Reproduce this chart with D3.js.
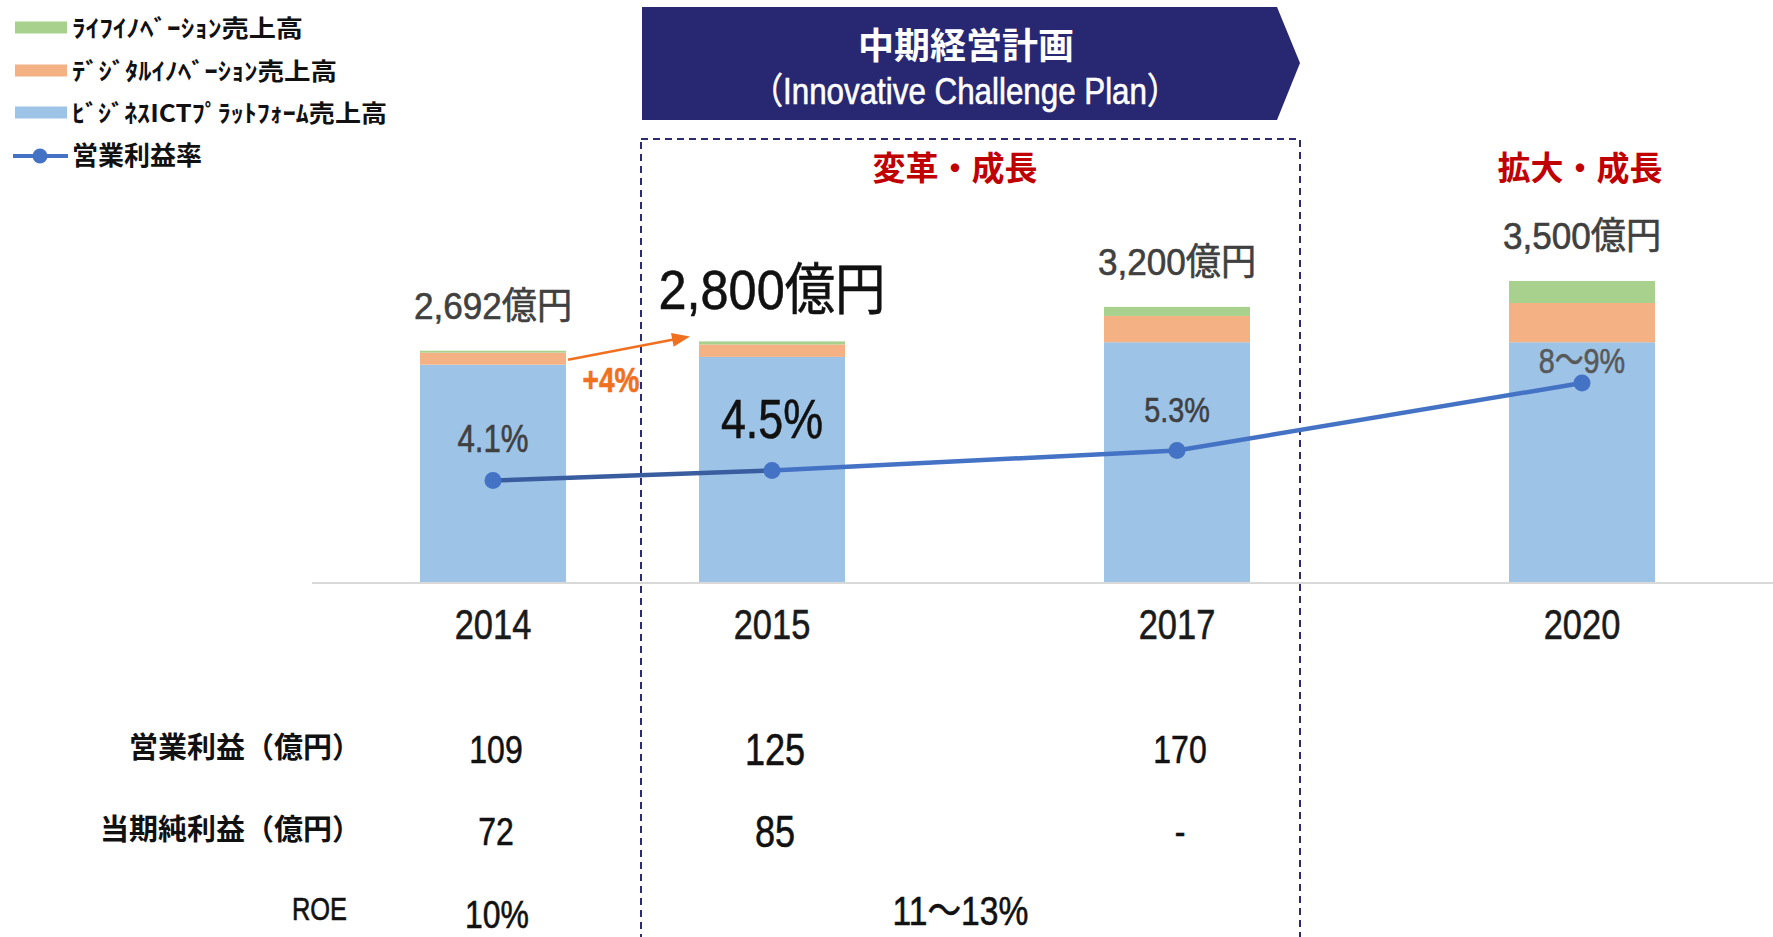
<!DOCTYPE html>
<html>
<head>
<meta charset="utf-8">
<script src="https://cdn.jsdelivr.net/npm/d3@7"></script>
<style>
  body { margin: 0; background: #fff; }
  text { font-family: "Liberation Sans", Arial, "Noto Sans CJK JP", sans-serif; }
  .jp { font-family: "Noto Sans CJK JP", sans-serif; }
  .nar { stroke-width: 0.6px; }
</style>
</head>
<body>
<svg id="chart" width="1773" height="937"></svg>
<script>
// data (億円, %)
const years = ['2014', '2015', '2017', '2020']
const ictSales = [2530, 2620, 2790, 2790]
const digitalSales = [140, 145, 305, 455]
const lifeSales = [22, 35, 105, 255]
const totalLabels = ['2,692億円', '2,800億円', '3,200億円', '3,500億円']
const opMargin = [4.1, 4.5, 5.3, 8.0]
const marginLabels = ['4.1%', '4.5%', '5.3%', '8～9%']

const legendNames = ['ﾗｲﾌｲﾉﾍﾞｰｼｮﾝ売上高', 'ﾃﾞｼﾞﾀﾙｲﾉﾍﾞｰｼｮﾝ売上高', 'ﾋﾞｼﾞﾈｽICTﾌﾟﾗｯﾄﾌｫｰﾑ売上高', '営業利益率']
const tableRows = ['営業利益（億円）', '当期純利益（億円）', 'ROE']
const opProfit = ['109', '125', '170', '']
const netProfit = ['72', '85', '-', '']
const roe = ['10%', '11～13%']

const planTitle = '中期経営計画'
const planSub = '（Innovative Challenge Plan）'
const phases = ['変革・成長', '拡大・成長']

const colors = { ict: '#9DC3E6', digital: '#F4B183', life: '#A9D18E', line: '#4472C4' }
const focus = '2015'

const svg = d3.select('#chart')

const x = d3.scaleLinear()
    .domain(years.map(Number))
    .range([493, 772, 1177, 1582])
const y = d3.scaleLinear().domain([0, 3500]).range([583, 281])
const ym = d3.scaleLinear().domain([0, 8]).range([583, 383])
const bw = 146

// narrow text: Arial squeezed sideways, like Arial Narrow
function nar(sel, fx, fy, sx) {
    sel.attr('class', 'nar')
        .attr('transform', (d, i) => 'translate(' + fx(d, i) + ',' + fy(d, i) + ') scale(' +
            (typeof sx === 'function' ? sx(d, i) : sx) + ',1)')
    return sel
}
// thicken strokes a little, the slide font is heavier than Arial
function ink(sel, c) {
    return sel.attr('fill', c).attr('stroke', c)
}

// plan box and banner
svg.append('rect')
    .attr('x', 641).attr('y', 139)
    .attr('width', 659).attr('height', 840)
    .attr('fill', 'none')
    .attr('stroke', '#2B2B70')
    .attr('stroke-width', 2)
    .attr('stroke-dasharray', '7,5')

svg.append('path')
    .attr('d', 'M642,7 L1277,7 L1300,63 L1277,120 L642,120 Z')
    .attr('fill', '#282872')

svg.append('text').attr('class', 'jp')
    .attr('x', 966).attr('y', 59)
    .attr('text-anchor', 'middle')
    .attr('font-size', 36).attr('font-weight', 'bold')
    .attr('fill', '#fff')
    .text(planTitle)
ink(nar(svg.append('text'), () => 965, () => 104, 0.87), '#fff')
    .attr('text-anchor', 'middle')
    .attr('font-size', 36)
    .text(planSub)

svg.selectAll('.phase')
    .data(phases)
    .enter()
    .append('text')
    .attr('class', 'jp')
    .attr('x', (d, i) => i == 0 ? 955 : 1580)
    .attr('y', 180)
    .attr('text-anchor', 'middle')
    .attr('font-size', 33).attr('font-weight', 'bold')
    .attr('fill', '#C00000')
    .text(d => d)

// stacked bars
const rows = years.map((yr, i) => ({ year: yr, ict: ictSales[i], digital: digitalSales[i], life: lifeSales[i] }))
const stack = d3.stack().keys(['ict', 'digital', 'life'])(rows)

svg.selectAll('g.layer')
    .data(stack)
    .enter()
    .append('g')
    .attr('fill', d => colors[d.key])
    .selectAll('rect')
    .data(d => d)
    .enter()
    .append('rect')
    .attr('x', d => x(+d.data.year) - bw / 2)
    .attr('y', d => y(d[1]))
    .attr('width', bw)
    .attr('height', d => y(d[0]) - y(d[1]))

// baseline + year labels
svg.append('line')
    .attr('x1', 312).attr('x2', 1773)
    .attr('y1', y(0)).attr('y2', y(0))
    .attr('stroke', '#D9D9D9').attr('stroke-width', 2)

ink(nar(svg.selectAll('.year')
    .data(years)
    .enter()
    .append('text'), d => x(+d), () => 639, 0.82), '#1a1a1a')
    .attr('text-anchor', 'middle')
    .attr('font-size', 42)
    .text(d => d)

// total sales labels
const totals = rows.map(r => r.ict + r.digital + r.life)
nar(svg.selectAll('.total')
    .data(totalLabels)
    .enter()
    .append('text'), (d, i) => x(+years[i]), (d, i) => y(totals[i]) - 32,
    (d, i) => years[i] == focus ? 0.9 : 0.95)
    .attr('text-anchor', 'middle')
    .attr('font-size', (d, i) => years[i] == focus ? 56 : 37)
    .attr('fill', (d, i) => years[i] == focus ? '#111' : '#404040')
    .attr('stroke', (d, i) => years[i] == focus ? '#111' : '#404040')
    .text(d => d)

// growth arrow
const a0 = [x(2014) + bw / 2 + 2, y(totals[0]) + 9]
const a1 = [x(2015) - bw / 2 - 9, y(totals[1]) - 5]
const ang = Math.atan2(a1[1] - a0[1], a1[0] - a0[0])
const tip = (len, off) => [a1[0] - len * Math.cos(ang) - off * Math.sin(ang), a1[1] - len * Math.sin(ang) + off * Math.cos(ang)]
svg.append('line')
    .attr('x1', a0[0]).attr('y1', a0[1])
    .attr('x2', tip(10, 0)[0]).attr('y2', tip(10, 0)[1])
    .attr('stroke', '#F07020').attr('stroke-width', 2.5)
svg.append('path')
    .attr('d', 'M' + a1 + 'L' + tip(18, 7) + 'L' + tip(18, -7) + 'Z')
    .attr('fill', '#F07020')
ink(nar(svg.append('text'), () => a0[0] + 43, () => 392, 0.8), '#F07020')
    .attr('text-anchor', 'middle')
    .attr('font-size', 35).attr('font-weight', 'bold')
    .text('+4%')

// operating margin line
const pts = years.map((yr, i) => [x(+yr), ym(opMargin[i])])
for (let i = 0; i < pts.length - 1; i++) {
    svg.append('path')
        .attr('d', d3.line()([pts[i], pts[i + 1]]))
        .attr('fill', 'none')
        .attr('stroke', i == 0 ? '#3A5DA0' : colors.line)
        .attr('stroke-width', 4.5)
}
svg.selectAll('circle.dot')
    .data(pts)
    .enter()
    .append('circle')
    .attr('cx', d => d[0]).attr('cy', d => d[1])
    .attr('r', 8.5)
    .attr('fill', colors.line)

const mColor = (d, i) => years[i] == focus ? '#111' : (d.includes('～') ? '#595959' : '#404040')
nar(svg.selectAll('.mlabel')
    .data(marginLabels)
    .enter()
    .append('text'), (d, i) => x(+years[i]),
    (d, i) => ym(opMargin[i]) - (d.includes('～') ? 10 : years[i] == focus ? 33 : 29), 0.8)
    .attr('text-anchor', 'middle')
    .attr('font-size', (d, i) => years[i] == focus ? 56 : (i == 0 ? 39 : 36))
    .attr('fill', mColor)
    .attr('stroke', mColor)
    .text(d => d)

// legend
const legend = svg.append('g')
const swatch = [colors.life, colors.digital, colors.ict]
const legendY = [27.5, 70.5, 112.5, 156]
const legendW = [231, 265, 315]
legendNames.forEach((name, i) => {
    if (i < 3) {
        legend.append('rect')
            .attr('x', 15).attr('y', legendY[i] - 6)
            .attr('width', 52).attr('height', 12)
            .attr('fill', swatch[i])
    } else {
        legend.append('line')
            .attr('x1', 13).attr('x2', 68)
            .attr('y1', legendY[i]).attr('y2', legendY[i])
            .attr('stroke', colors.line).attr('stroke-width', 4)
        legend.append('circle')
            .attr('cx', 40).attr('cy', legendY[i]).attr('r', 7.5)
            .attr('fill', colors.line)
    }
    const t = legend.append('text').attr('class', 'jp')
        .attr('x', 72).attr('y', legendY[i] + 9)
        .attr('font-size', i < 3 ? 24 : 26)
        .attr('font-weight', 'bold')
        .attr('fill', '#111')
        .text(name)
    if (i < 3) t.attr('textLength', legendW[i]).attr('lengthAdjust', 'spacingAndGlyphs')
})

// table under the chart
const rowY = [763, 845, 925]
tableRows.forEach((lab, i) => {
    if (i < 2) {
        svg.append('text').attr('class', 'jp')
            .attr('x', 361).attr('y', rowY[i] - 5)
            .attr('text-anchor', 'end')
            .attr('font-size', 29).attr('font-weight', 'bold')
            .attr('fill', '#111')
            .text(lab)
    } else {
        ink(nar(svg.append('text'), () => 347, () => rowY[i] - 5, 0.82), '#111')
            .attr('text-anchor', 'end')
            .attr('font-size', 31)
            .text(lab)
    }
})

const cell = (vals, r) => {
    ink(nar(svg.selectAll('.r' + r)
        .data(vals)
        .enter()
        .append('text'), (d, i) => x(+years[i]) + 3,
        (d, i) => rowY[r] + (years[i] == focus ? 2 : 0), 0.82), '#111')
        .attr('text-anchor', 'middle')
        .attr('font-size', (d, i) => years[i] == focus ? 44 : 39)
        .text(d => d)
}
cell(opProfit, 0)
cell(netProfit, 1)

ink(nar(svg.append('text'), () => x(2014) + 4, () => rowY[2] + 3, 0.82), '#111')
    .attr('text-anchor', 'middle')
    .attr('font-size', 39)
    .text(roe[0])
ink(nar(svg.append('text'), () => (x(2015) + x(2017)) / 2 - 14, () => rowY[2], 0.82), '#111')
    .attr('text-anchor', 'middle')
    .attr('font-size', 41)
    .text(roe[1])
</script>
</body>
</html>
